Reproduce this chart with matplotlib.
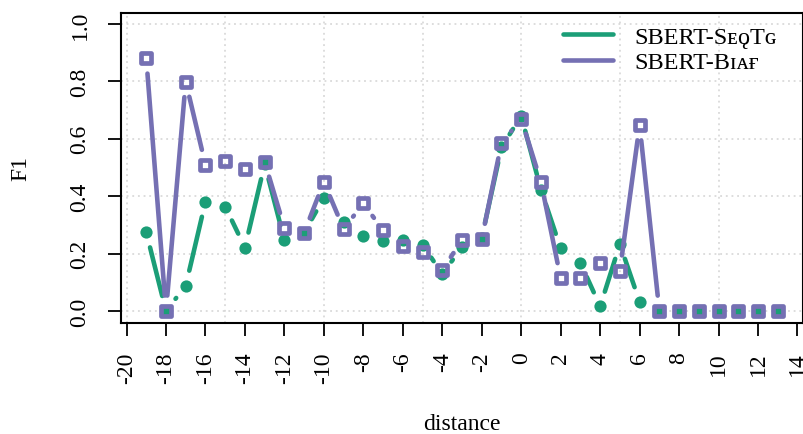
import numpy as np
import matplotlib
matplotlib.use("Agg")
import matplotlib.pyplot as plt
from matplotlib.markers import MarkerStyle
from matplotlib.lines import Line2D

# ---- data ----
distance = list(range(-19, 14))
seqtg = [0.274, 0.0, 0.088, 0.381, 0.364, 0.221, 0.512, 0.247, 0.273, 0.394,
         0.311, 0.262, 0.244, 0.246, 0.231, 0.129, 0.222, 0.255, 0.570, 0.680,
         0.423, 0.218, 0.168, 0.016, 0.233, 0.032, 0.0, 0.0, 0.0, 0.0, 0.0, 0.0, 0.0]
biaf = [0.881, 0.0, 0.799, 0.509, 0.524, 0.494, 0.520, 0.290, 0.273, 0.450,
        0.286, 0.375, 0.281, 0.228, 0.204, 0.143, 0.247, 0.251, 0.585, 0.669,
        0.450, 0.114, 0.114, 0.168, 0.140, 0.648, 0.0, 0.0, 0.0, 0.0, 0.0, 0.0, 0.0]
labels = ["SBERT-S\u1d07\u01ebT\u0262", "SBERT-B\u026a\u1d00\u0493"]
xticks = list(range(-20, 15, 2))
yticks = [0.0, 0.2, 0.4, 0.6, 0.8, 1.0]

GREEN = "#1B9E77"
PURPLE = "#7570B3"
FS = 17
SERIF = ["Liberation Serif", "DejaVu Serif"]
plt.rcParams["font.family"] = SERIF
plt.rcParams["mathtext.fontset"] = "stix"

W, H = 804, 435
fig = plt.figure(figsize=(W / 100, H / 100), dpi=100)
l, r, t, b = 121, 803, 13.5, 323.5
ax = fig.add_axes([l / W, 1 - b / H, (r - l) / W, (b - t) / H])
ax.set_xlim(-20.28, 14.28)
ax.set_ylim(-0.04, 1.04)

# grid
for gx in range(-20, 15, 5):
    ax.axvline(gx, color="#d3d3d3", lw=1.1, ls=(0, (1.2, 2.5)), zorder=0)
for gy in yticks:
    ax.axhline(gy, color="#d3d3d3", lw=1.1, ls=(0, (1.2, 2.5)), zorder=0)


def gapped(x, y, color, gap_px, lw, z):
    pts = ax.transData.transform(np.column_stack([x, y]))
    inv = ax.transData.inverted()
    for i in range(len(x) - 1):
        p0, p1 = pts[i], pts[i + 1]
        d = p1 - p0
        L = np.hypot(d[0], d[1])
        if L <= 2 * gap_px:
            continue
        u = d / L
        seg = inv.transform(np.array([p0 + u * gap_px, p1 - u * gap_px]))
        ax.plot(seg[:, 0], seg[:, 1], color=color, lw=lw,
                solid_capstyle="round", zorder=z)


LW = 3.3
gapped(distance, seqtg, GREEN, 15.5, LW, 2)
ax.plot(distance, seqtg, ls="none", marker="o", ms=8.8, mfc=GREEN, mec=GREEN,
        mew=0, zorder=3)
gapped(distance, biaf, PURPLE, 15.5, LW, 4)
ax.plot(distance, biaf, ls="none", marker=MarkerStyle("s", joinstyle="round"),
        ms=6.6, mfc="none", mec=PURPLE, mew=3.4, zorder=5)

# axes styling
for s in ax.spines.values():
    s.set_linewidth(1.5)
ax.set_xticks(xticks)
ax.set_xticklabels([str(v) for v in xticks], rotation=90, fontsize=FS)
ax.set_yticks(yticks)
ax.set_yticklabels([f"{v:.1f}" for v in yticks], rotation=90, fontsize=FS,
                   va="center")
ax.tick_params(axis="both", direction="out", length=9.5, width=1.3)
ax.tick_params(axis="x", pad=11.5)
ax.tick_params(axis="y", pad=12.5)

ax.set_xlabel("distance", fontsize=FS)
ax.xaxis.set_label_coords(0.5, -0.325)
ax.xaxis.label.set_va("center")
ax.set_ylabel("F1", fontsize=FS)
ax.yaxis.set_label_coords(-0.147, 0.5)
ax.yaxis.label.set_va("center")

handles = [Line2D([], [], color=GREEN, lw=LW, solid_capstyle="round"),
           Line2D([], [], color=PURPLE, lw=LW, solid_capstyle="round")]
ax.legend(handles, labels, loc="upper right", frameon=False,
          prop={"family": SERIF, "size": 17.5}, handlelength=2.05,
          handletextpad=0.9, labelspacing=0.15, borderaxespad=0.3,
          bbox_to_anchor=(0.986, 1.012))

fig.savefig("out.png", dpi=100)
